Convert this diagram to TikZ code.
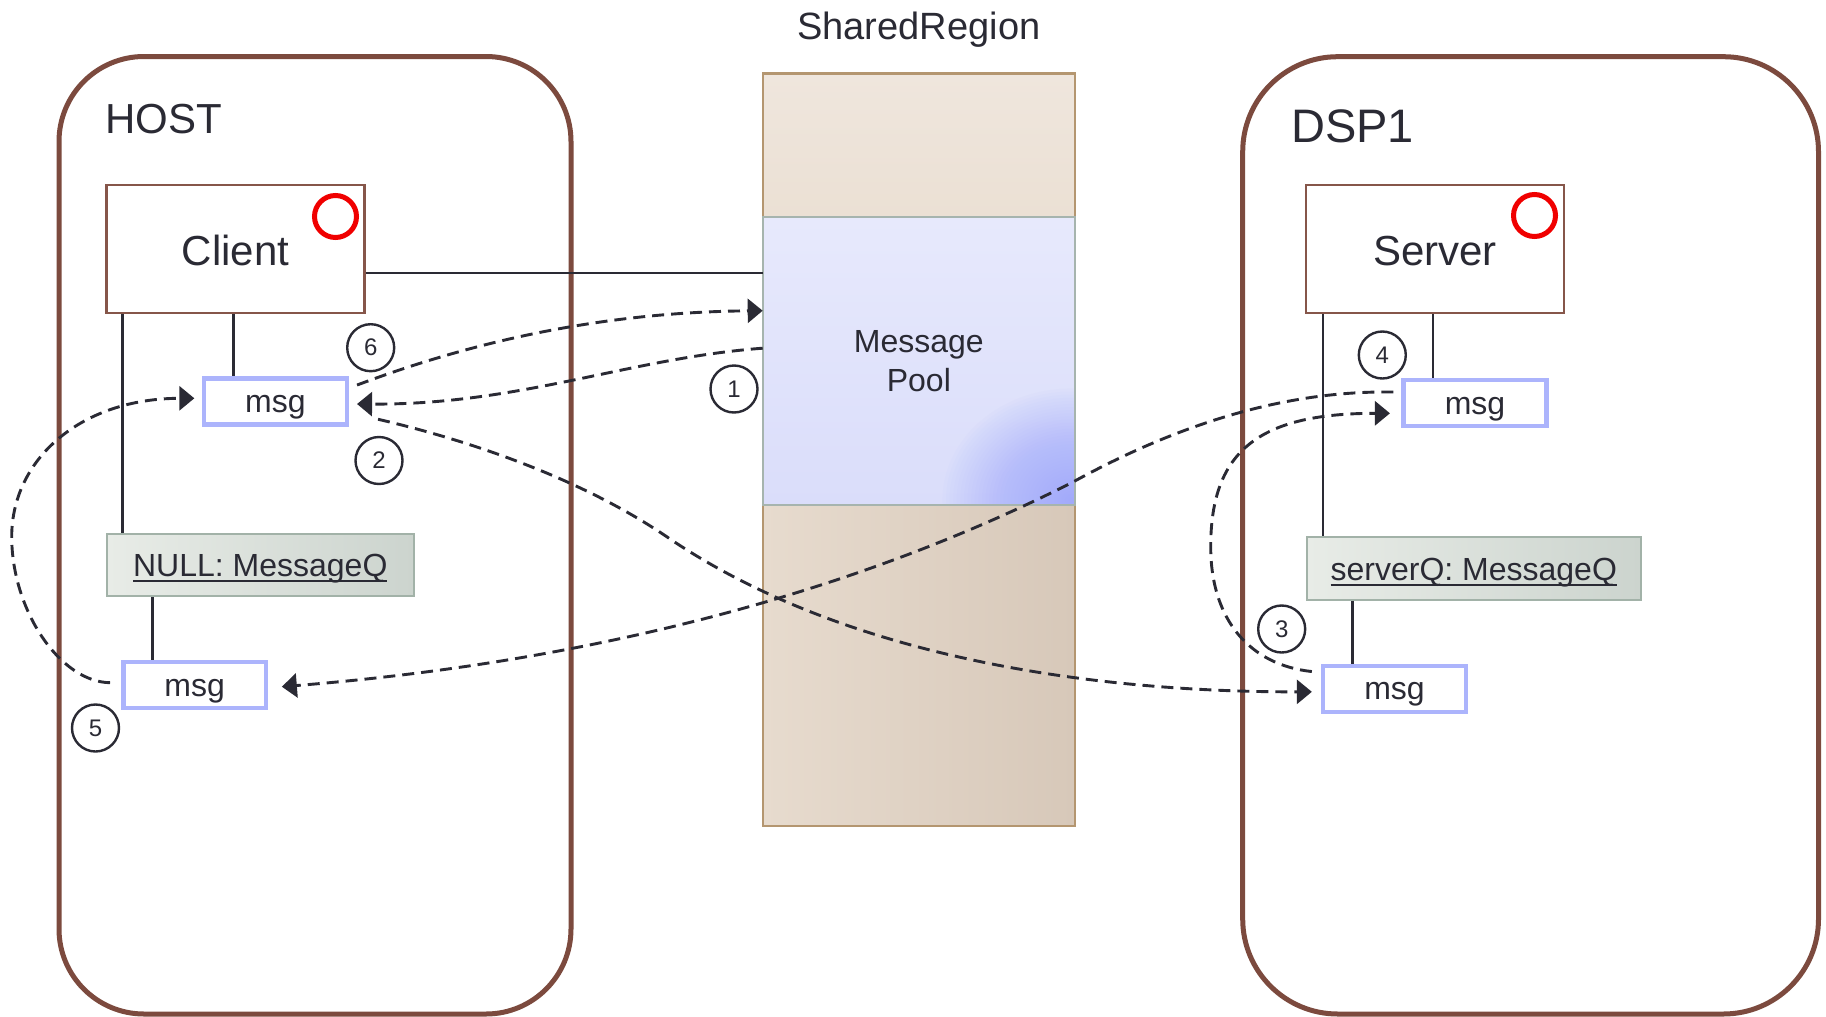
\documentclass[tikz,border=0pt]{standalone}
\usepackage{fontspec}
\setmainfont{Liberation Sans}
\usetikzlibrary{arrows.meta}
\definecolor{ink}{RGB}{42,42,52}
\definecolor{frame}{RGB}{124,74,62}
\definecolor{cbord}{RGB}{134,86,74}
\definecolor{redc}{RGB}{240,0,0}
\definecolor{msgb}{RGB}{172,180,252}
\definecolor{qfillL}{RGB}{232,236,231}
\definecolor{qfillR}{RGB}{204,212,206}
\definecolor{qbord}{RGB}{162,178,168}
\definecolor{srbord}{RGB}{180,150,112}
\definecolor{divl}{RGB}{166,180,174}
\definecolor{tanTop}{RGB}{239,230,221}
\definecolor{tanTopB}{RGB}{235,224,212}
\definecolor{poolA}{RGB}{231,233,252}
\definecolor{poolB}{RGB}{218,221,250}
\definecolor{glowc}{RGB}{150,160,250}
\definecolor{tanBotL}{RGB}{231,219,206}
\definecolor{tanBotR}{RGB}{215,200,185}
\newcommand\myul[1]{\leavevmode\setbox0\hbox{#1}\rlap{\rule[-5.3pt]{\wd0}{2pt}}\box0}
\tikzset{
  ctr/.style={draw=cbord, line width=2.5pt, fill=white, minimum width=258pt, minimum height=128pt,
    inner sep=0pt, text=ink, font=\fontsize{42}{50}\selectfont, text height=33pt, text depth=0pt},
  msgbox/.style={draw=msgb, line width=4.5pt, fill=white, minimum width=142.8pt, minimum height=46pt,
    inner sep=0pt, text=ink, font=\fontsize{32}{38}\selectfont, text height=22pt, text depth=0pt},
  qbox/.style={draw=qbord, line width=2pt, left color=qfillL, right color=qfillR, minimum height=62.5pt,
    inner sep=0pt, text=ink, font=\fontsize{32}{38}\selectfont, text height=23.4pt, text depth=0pt},
  num/.style={circle, draw=ink, line width=2.4pt, minimum size=47pt, inner sep=0pt, text=ink,
    font=\fontsize{24}{28}\selectfont},
  redring/.style={circle, draw=redc, line width=5pt, minimum size=42pt, inner sep=0pt},
  wire/.style={draw=ink, line width=2.5pt},
  flow/.style={draw=ink, line width=2.9pt, dash pattern=on 12pt off 7pt,
    -{Triangle[length=15pt,width=24pt]}},
  frameb/.style={draw=frame, line width=5pt},
  lbl/.style={text=ink, inner sep=0pt},
}
\begin{document}
\begin{tikzpicture}[x=1pt,y=-1pt]
\useasboundingbox (0,0) rectangle (1826,1017);
\fill[white] (0,0) rectangle (1826,1017);

% processor frames
\draw[frameb, rounded corners=85pt] (59,56.5) rectangle (571,1014);
\draw[frameb, rounded corners=95pt] (1242.7,56.7) rectangle (1818.5,1014);
\node[lbl, anchor=base west, font=\fontsize{42}{50}\selectfont] (hostlbl) at (105,133) {HOST};
\node[lbl, anchor=base west, font=\fontsize{47}{56}\selectfont] (dsplbl) at (1291,142) {DSP1};

% shared region column
\node[lbl, anchor=base, font=\fontsize{38}{46}\selectfont] (srlbl) at (918.85,39.5) {SharedRegion};
\shade[top color=tanTop, bottom color=tanTopB] (762.7,73.4) rectangle (1075,217.4);
\draw[srbord, line width=2.2pt] (762.7,217.4) -- (762.7,73.4) -- (1075,73.4) -- (1075,217.4);
\shade[left color=tanBotL, right color=tanBotR] (762.7,505) rectangle (1075,826);
\draw[srbord, line width=2.2pt] (762.7,505) -- (762.7,826) -- (1075,826) -- (1075,505);
\shade[top color=poolA, bottom color=poolB] (762.7,217.4) rectangle (1075,505);
\begin{scope}
  \clip (762.7,217.4) rectangle (1075,505);
  \foreach \r in {1,...,36} {
    \fill[glowc, opacity=0.03] (1072,500) ellipse ({3.6*\r} and {3.1*\r});
  }
\end{scope}
\node[draw=divl, line width=2pt, outer sep=0pt, minimum width=312.3pt, minimum height=287.6pt,
  inner sep=0pt, align=center, text=ink, font=\fontsize{32}{38.3}\selectfont] (pool) at (918.85,361.2)
  {Message\\Pool};

% boxes
\node[ctr] (client) at (235.5,248.8) {Client};
\node[ctr] (server) at (1435,248.8) {Server};
\node[redring] (cring) at (335.5,216.5) {};
\node[redring] (sring) at (1534.5,215.5) {};
\node[msgbox] (cmsg) at (275.4,401.3) {msg};
\node[msgbox] (hmsg) at (194.7,685) {msg};
\node[msgbox] (smsg1) at (1475,403) {msg};
\node[msgbox] (smsg2) at (1394.5,688.8) {msg};
\node[qbox, minimum width=307.3pt] (nullq) at (260.3,565) {\myul{NULL: MessageQ}};
\node[qbox, minimum width=334pt] (serverq) at (1473.8,568.7) {\myul{serverQ: MessageQ}};

% solid connectors
\draw[wire] ([yshift=-24pt]client.east) -- ([yshift=-24pt]client.east -| pool.west);
\draw[wire] ([xshift=-112.8pt]client.south) -- ([xshift=-112.8pt]client.south |- nullq.north);
\draw[wire] ([xshift=-2pt]client.south) -- ([xshift=-2pt]client.south |- cmsg.north);
\draw[wire] ([xshift=-108pt]nullq.south) -- ([xshift=-108pt]nullq.south |- hmsg.north);
\draw[wire] ([xshift=-112pt]server.south) -- ([xshift=-112pt]server.south |- serverq.north);
\draw[wire] ([xshift=-2pt]server.south) -- ([xshift=-2pt]server.south |- smsg1.north);
\draw[wire] ([xshift=-121.5pt]serverq.south) -- ([xshift=-121.5pt]serverq.south |- smsg2.north);

% message flows
\draw[flow] ([yshift=13pt]pool.west) .. controls (630,358) and (520,405) .. ([xshift=8pt,yshift=-2.7pt]cmsg.east);
\draw[flow] ([xshift=29pt,yshift=7.3pt]cmsg.south east) .. controls (480,443) and (586.7,482.3) .. (666.7,536.7)
  .. controls (864.7,671.9) and (1140.9,692.2) .. ([xshift=-9pt,yshift=-3pt]smsg2.west);
\draw[flow] ([xshift=-9pt,yshift=-8pt]smsg2.north west) .. controls (1250,665) and (1210.7,620) .. (1210.7,546.7)
  .. controls (1210.7,450) and (1260,413.3) .. ([xshift=-11.4pt,yshift=-10.3pt]smsg1.west);
\draw[flow] ([xshift=-8pt,yshift=11pt]smsg1.west) .. controls (1320,391) and (1213,405) .. (1073,482)
  .. controls (829.3,605.4) and (555.3,664.8) .. ([xshift=13.5pt,yshift=-1.7pt]hmsg.east);
\draw[flow] ([xshift=-11pt,yshift=2.3pt]hmsg.west) .. controls (60,682) and (11.7,610) .. (11.7,536.7)
  .. controls (11.7,460) and (80,398.3) .. ([xshift=-7.4pt,yshift=3pt]cmsg.west);
\draw[flow] ([xshift=8pt,yshift=-9pt]cmsg.north east) .. controls (490,335) and (620,312) .. ([yshift=50.5pt]pool.west);

% step numbers
\node[num] (n1) at (734,389) {1};
\node[num] (n2) at (379,460.5) {2};
\node[num] (n3) at (1281.7,629) {3};
\node[num] (n4) at (1382.3,355) {4};
\node[num] (n5) at (95.5,728) {5};
\node[num] (n6) at (370.7,347.7) {6};
\end{tikzpicture}
\end{document}
